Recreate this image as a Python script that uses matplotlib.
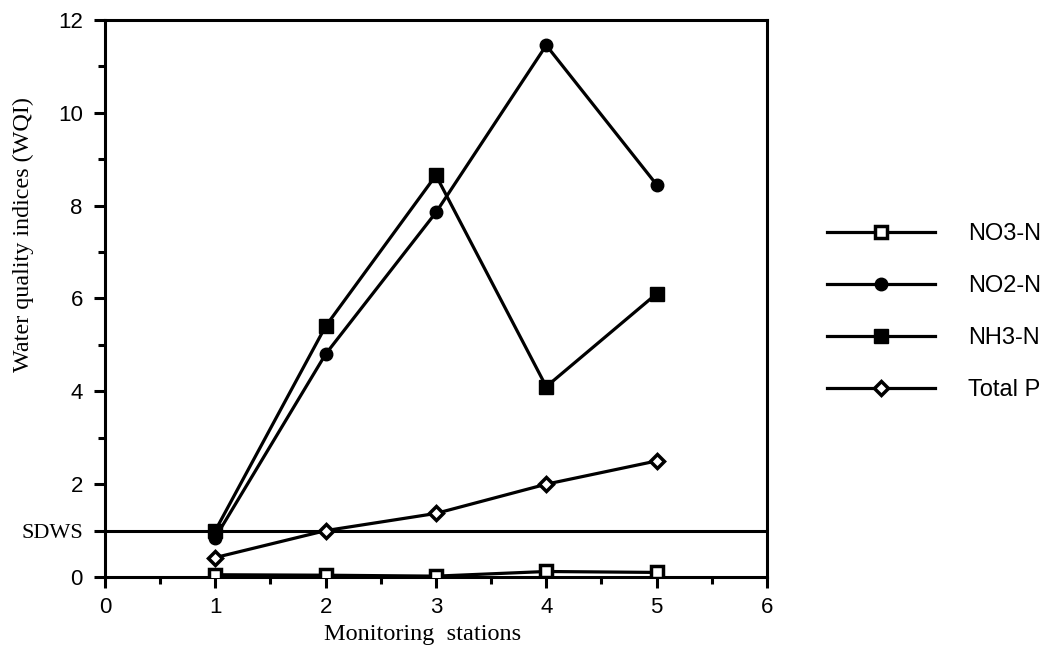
import numpy as np
import matplotlib.pyplot as plt
from matplotlib.ticker import MultipleLocator

# Data
stations = [1, 2, 3, 4, 5]
no3_n = [0.05, 0.04, 0.02, 0.12, 0.10]
no2_n = [0.85, 4.8, 7.85, 11.45, 8.45]
nh3_n = [1.0, 5.4, 8.65, 4.1, 6.1]
total_p = [0.42, 1.0, 1.37, 2.0, 2.5]
sdws = 1.0

yticks = [0, 1, 2, 4, 6, 8, 10, 12]
ytick_labels = ['0', 'SDWS', '2', '4', '6', '8', '10', '12']

sans = 'Liberation Sans'
serif = 'Liberation Serif'

fig = plt.figure(figsize=(10.54, 6.58), dpi=100)
ax = fig.add_axes([0.0996, 0.123, 0.628, 0.847])

lw = 2.3
ax.plot(stations, no3_n, color='black', lw=lw, marker='s', ms=9, mfc='white',
        mec='black', mew=2.5, label='NO3-N', zorder=3)
ax.plot(stations, no2_n, color='black', lw=lw, marker='o', ms=9,
        mfc='black', mec='black', label='NO2-N', zorder=3)
ax.plot(stations, nh3_n, color='black', lw=lw, marker='s', ms=10,
        mfc='black', mec='black', label='NH3-N', zorder=3)
ax.plot(stations, total_p, color='black', lw=lw, marker='D', ms=7.5, mfc='white',
        mec='black', mew=2.5, label='Total P', zorder=3)
ax.axhline(sdws, color='black', lw=2.2)

ax.set_xlim(0, 6)
ax.set_ylim(0, 12)
ax.xaxis.set_major_locator(MultipleLocator(1))
ax.xaxis.set_minor_locator(MultipleLocator(0.5))
ax.set_yticks(yticks)
ax.set_yticklabels(ytick_labels)
ax.yaxis.set_minor_locator(MultipleLocator(1))
ax.tick_params(which='major', direction='out', length=8, width=2.2, labelsize=16)
ax.tick_params(axis='y', which='major', pad=8)
ax.tick_params(axis='x', which='major', pad=6)
ax.tick_params(which='minor', direction='out', length=5, width=2.2)
for lab in ax.get_xticklabels() + ax.get_yticklabels():
    lab.set_fontfamily(sans)
ax.get_yticklabels()[1].set_fontfamily(serif)
for s in ax.spines.values():
    s.set_linewidth(2.2)

ax.set_xlabel('Monitoring  stations', fontsize=17.5, family=serif)
ax.set_ylabel('Water quality indices (WQI)', fontsize=17.4, family=serif)
ax.xaxis.set_label_coords(0.48, -0.085)
ax.yaxis.set_label_coords(-0.107, 0.615)

fig.legend(loc='center left', bbox_to_anchor=(0.764, 0.526), frameon=False,
           handlelength=4.6, labelspacing=1.27, handletextpad=1.4,
           prop={'family': sans, 'size': 17})

fig.savefig('out.png', dpi=100)
